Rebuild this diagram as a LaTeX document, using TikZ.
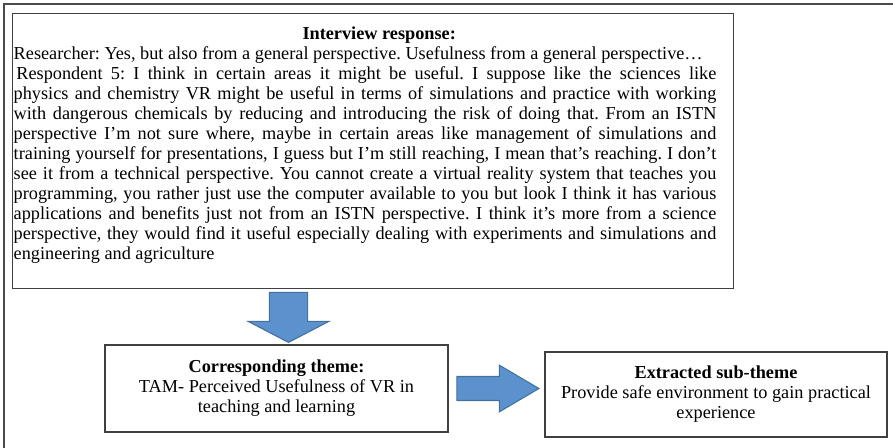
\documentclass[tikz,border=0pt]{standalone}
\usepackage{fontspec}
\setmainfont{Liberation Serif}
\usetikzlibrary{shapes.arrows}
\definecolor{arrowfill}{RGB}{91,145,204}
\definecolor{arrowline}{RGB}{65,113,156}
\newcommand{\fullline}[1]{\makebox[527pt][s]{#1}\par}
\begin{document}
\frenchspacing
\begin{tikzpicture}[x=0.75pt,y=-0.75pt,
  box/.style={draw=black!75,line width=1.1pt,inner sep=0pt,align=center,font=\fontsize{13.7}{15}\selectfont},
  blockarrow/.style={single arrow,draw=arrowline,fill=arrowfill,line width=0.8pt}]
\useasboundingbox (0,0) rectangle (893,447);
\draw[black!70,line width=1.4pt] (4,452) -- (4,4) -- (898,4);
\node[box,anchor=north west] (resp) at (12,13) {\parbox[t][206.25pt][t]{540.75pt}{%
  \vspace*{9.5pt}{\centering\hspace*{9pt}\textbf{Interview response:}\par}
  \leftskip=0.75pt
  Researcher: Yes, but also from a general perspective. Usefulness from a general perspective…\par
  \fullline{\hspace{2pt}Respondent 5: I think in certain areas it might be useful. I suppose like the sciences like}
  \fullline{physics and chemistry VR might be useful in terms of simulations and practice with working}
  \fullline{with dangerous chemicals by reducing and introducing the risk of doing that. From an ISTN}
  \fullline{perspective I’m not sure where, maybe in certain areas like management of simulations and}
  \fullline{training yourself for presentations, I guess but I’m still reaching, I mean that’s reaching. I don’t}
  \fullline{see it from a technical perspective. You cannot create a virtual reality system that teaches you}
  \fullline{programming, you rather just use the computer available to you but look I think it has various}
  \fullline{applications and benefits just not from an ISTN perspective. I think it’s more from a science}
  \fullline{perspective, they would find it useful especially dealing with experiments and simulations and}
  engineering and agriculture\par}};
\node[box,minimum width=257.25pt,minimum height=65.25pt] (theme) at (276.5,388.5)
  {\textbf{Corresponding theme:}\\TAM- Perceived Usefulness of VR in\\teaching and learning};
\node[box,minimum width=256.5pt,minimum height=63.75pt] (sub) at (716,394.5)
  {\textbf{Extracted sub-theme}\\Provide safe environment to gain practical\\experience};
% block arrows between the boxes
\node[blockarrow,rotate=-90,inner sep=13.9pt,minimum height=37.5pt,anchor=tip,
  single arrow head extend=16pt,single arrow tip angle=125] (down) at (288.5,343) {};
\node[blockarrow,inner sep=8.6pt,minimum height=61.5pt,anchor=tip,
  single arrow head extend=8.5pt,single arrow tip angle=61] (across) at (540,388.5) {};
\end{tikzpicture}
\end{document}
